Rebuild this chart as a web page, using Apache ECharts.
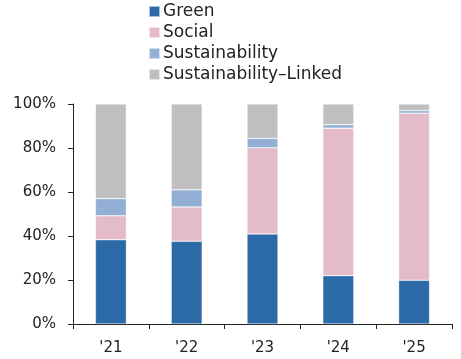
<!DOCTYPE html>
<html>
<head>
<meta charset="utf-8">
<script src="https://cdn.jsdelivr.net/npm/echarts@6/dist/echarts.min.js"></script>
<style>
  html, body { margin: 0; padding: 0; background: #fff; }
  #chart { width: 461px; height: 359px; }
</style>
</head>
<body>
<div id="chart"></div>
<script>
// Share of issuance by bond type, per year (%)
const years = ["'21", "'22", "'23", "'24", "'25"];
const green = [38.3, 37.6, 40.9, 22.0, 19.9];
const social = [10.9, 15.6, 39.2, 67.0, 75.9];
const sustainability = [7.8, 7.8, 4.3, 1.6, 1.2];
const sustainabilityLinked = [43.0, 39.0, 15.6, 9.4, 3.0];
const yTicks = [0, 20, 40, 60, 80, 100];

const fontFamily = '"DejaVu Sans", sans-serif';

const seriesDefs = [
  { name: 'Green', data: green, color: '#2B6AA6' },
  { name: 'Social', data: social, color: '#E4BCC9' },
  { name: 'Sustainability', data: sustainability, color: '#93AFD5' },
  { name: 'Sustainability\u2013Linked', data: sustainabilityLinked, color: '#BFBFBF' }
];

const chart = echarts.init(document.getElementById('chart'), null, { renderer: 'canvas' });
chart.setOption({
  animation: false,
  textStyle: { fontFamily },
  legend: {
    orient: 'vertical',
    left: 148,
    top: 1,
    padding: 0,
    itemWidth: 11,
    itemHeight: 11,
    itemGap: 0,
    icon: 'rect',
    textStyle: { fontSize: 17, color: '#222', fontFamily, padding: [0, 0, 0, -2], lineHeight: 21 },
    data: seriesDefs.map(s => s.name)
  },
  grid: { left: 73, right: 9, top: 104, bottom: 35 },
  xAxis: {
    type: 'category',
    data: years,
    axisLine: { lineStyle: { color: '#222', width: 1 } },
    axisTick: { show: true, length: 5, lineStyle: { color: '#222' } },
    axisLabel: { fontSize: 15, color: '#222', margin: 17, fontFamily }
  },
  yAxis: {
    type: 'value',
    min: yTicks[0],
    max: yTicks[yTicks.length - 1],
    interval: 20,
    splitLine: { show: false },
    axisLine: { show: true, lineStyle: { color: '#222', width: 1 } },
    axisTick: { show: true, length: 5, lineStyle: { color: '#222' } },
    axisLabel: { fontSize: 15, color: '#222', margin: 17, fontFamily, formatter: v => v + '%' }
  },
  series: seriesDefs.map(s => ({
    name: s.name,
    type: 'bar',
    stack: 'total',
    barWidth: 31,
    data: s.data,
    itemStyle: { color: s.color, borderColor: 'rgba(255,255,255,0.6)', borderWidth: 0.6 }
  }))
});
</script>
</body>
</html>
